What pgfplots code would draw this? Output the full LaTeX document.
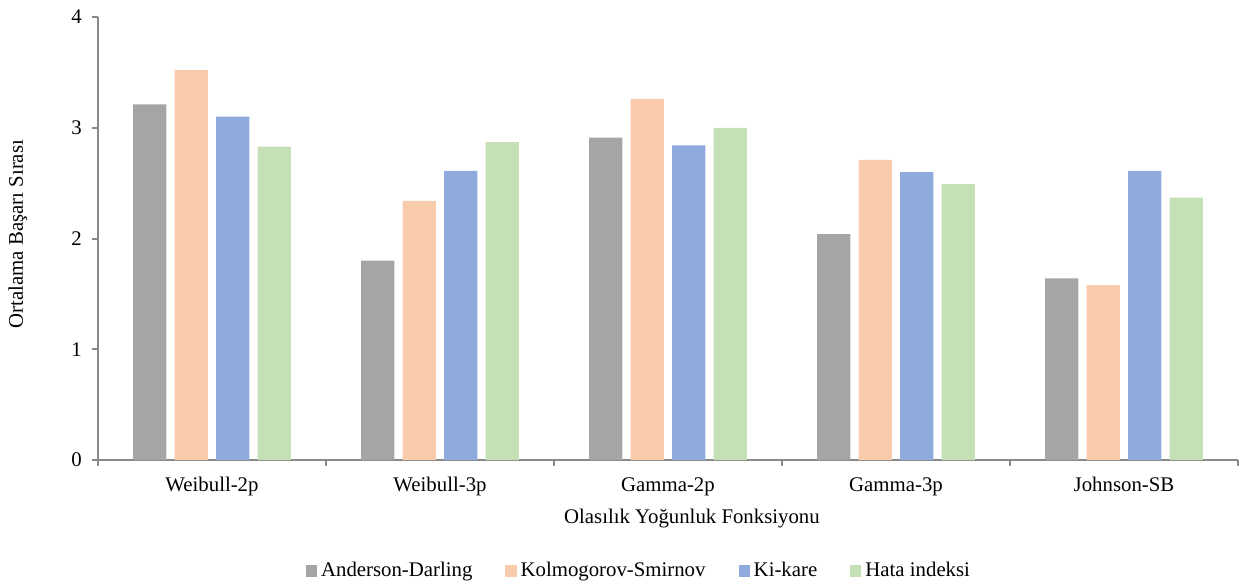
\documentclass[border=0pt]{standalone}
\usepackage{fontspec}
\setmainfont{Liberation Serif}
\usepackage{pgfplots}
\pgfplotsset{compat=1.18}
\definecolor{cAD}{HTML}{A5A5A5}
\definecolor{cKS}{HTML}{F8CBAD}
\definecolor{cKI}{HTML}{8FAADC}
\definecolor{cHI}{HTML}{C5E0B4}
\definecolor{axgray}{HTML}{898989}
\begin{document}
\fontsize{10.4pt}{12.5pt}\selectfont
\begin{tikzpicture}
\begin{axis}[
  scale only axis, width=570pt, height=221.5pt,
  xmin=-0.5, xmax=4.5, ymin=0, ymax=4,
  axis x line*=bottom, axis y line*=left,
  axis line style={axgray, line width=1pt},
  ytick={0,1,2,3,4},
  xtick={0,1,2,3,4},
  xticklabels={Weibull-2p,Weibull-3p,Gamma-2p,Gamma-3p,Johnson-SB},
  minor xtick={-0.5,0.5,1.5,2.5,3.5,4.5},
  major x tick style={draw=none},
  minor x tick style={axgray, line width=1pt},
  y tick style={axgray, line width=1pt},
  tick align=outside,
  major tick length=3pt, minor tick length=3pt,
  /pgf/number format/assume math mode=true,
  tick label style={font=\fontsize{10.4pt}{12.5pt}\selectfont},
  xticklabel style={yshift=-2pt},
  yticklabel style={xshift=-1.5pt},
  ylabel={Ortalama Başarı Sırası},
  xlabel={Olasılık Yoğunluk Fonksiyonu},
  every axis y label/.style={at={(axis description cs:-0.0702,0.51)}, rotate=90, anchor=center},
  every axis x label/.style={at={(axis description cs:0.521,-0.133)}, anchor=center},
  label style={font=\fontsize{10.4pt}{12.5pt}\selectfont},
  bar width=0.145,
  legend style={at={(axis description cs:0.4754,-0.2506)}, anchor=center, draw=none,
    legend columns=4, font=\fontsize{10.4pt}{12.5pt}\selectfont,
    /tikz/every even column/.append style={column sep=14.5pt}},
  legend image code/.code={\fill[#1] (0pt,-2.8pt) rectangle (5.6pt,2.8pt);},
]
\addplot[ybar, bar shift=-0.273, fill=cAD, draw=none] coordinates {(0,3.21) (1,1.80) (2,2.91) (3,2.04) (4,1.64)};
\addlegendentry{Anderson-Darling}
\addplot[ybar, bar shift=-0.091, fill=cKS, draw=none] coordinates {(0,3.52) (1,2.34) (2,3.26) (3,2.71) (4,1.58)};
\addlegendentry{Kolmogorov-Smirnov}
\addplot[ybar, bar shift=0.091, fill=cKI, draw=none] coordinates {(0,3.10) (1,2.61) (2,2.84) (3,2.60) (4,2.61)};
\addlegendentry{Ki-kare}
\addplot[ybar, bar shift=0.273, fill=cHI, draw=none] coordinates {(0,2.83) (1,2.87) (2,3.00) (3,2.49) (4,2.37)};
\addlegendentry{Hata indeksi}
\end{axis}
\pgfresetboundingbox
\path ([xshift=-49pt,yshift=-62pt]current axis.south west) rectangle ([xshift=1.5pt,yshift=8.5pt]current axis.north east);
\end{tikzpicture}
\end{document}
